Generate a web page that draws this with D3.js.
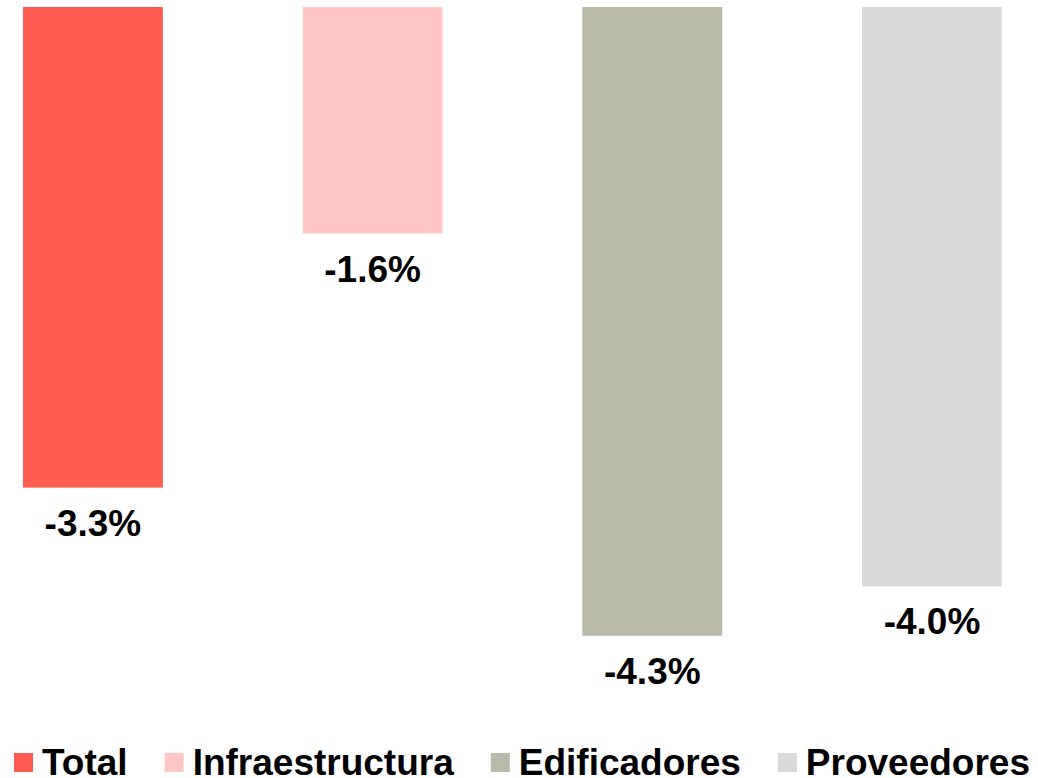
<!DOCTYPE html>
<html>
<head>
<meta charset="utf-8">
<script src="https://cdn.jsdelivr.net/npm/d3@7"></script>
<style>
html,body{margin:0;padding:0;background:#fff;}
svg{display:block;}
text{font-family:"Liberation Sans",Arial,sans-serif;font-weight:bold;fill:#000;}
</style>
</head>
<body>
<svg id="chart" width="1038" height="778"></svg>
<script>
const categories = ["Total", "Infraestructura", "Edificadores", "Proveedores"];
const values = [-3.31, -1.56, -4.33, -3.99];
const colors = ["#FF5A50", "#FFC6C4", "#B9BAAA", "#D9D9D9"];

const svg = d3.select("#chart");

const x = d3.scaleBand().domain(categories).range([-46.9, 1071.8]).paddingInner(0.5).paddingOuter(0.25);
const y = d3.scaleLinear().domain([0, -5]).range([7, 733]);

const data = categories.map((c, i) => ({c, v: values[i], col: colors[i]}));

svg.selectAll("rect.bar").data(data).enter().append("rect")
  .attr("class", "bar")
  .attr("x", d => x(d.c))
  .attr("width", x.bandwidth())
  .attr("y", y(0))
  .attr("height", d => y(d.v) - y(0))
  .attr("fill", d => d.col);

svg.selectAll("text.lbl").data(data).enter().append("text")
  .attr("class", "lbl")
  .attr("x", d => x(d.c) + x.bandwidth() / 2)
  .attr("y", d => y(d.v) + 48)
  .attr("text-anchor", "middle")
  .style("font-size", "37px")
  .text(d => d.v.toFixed(1) + "%");

// legend
const lg = svg.append("g");
let cx = 14;
const sq = 19, sqTop = 753, base = 775;
data.forEach(d => {
  lg.append("rect").attr("x", cx).attr("y", sqTop).attr("width", sq).attr("height", sq).attr("fill", d.col);
  const t = lg.append("text").attr("x", cx + 28).attr("y", base).style("font-size", "37px").text(d.c);
  const w = t.node().getComputedTextLength();
  cx = cx + 28 + w + 37;
});
</script>
</body>
</html>
